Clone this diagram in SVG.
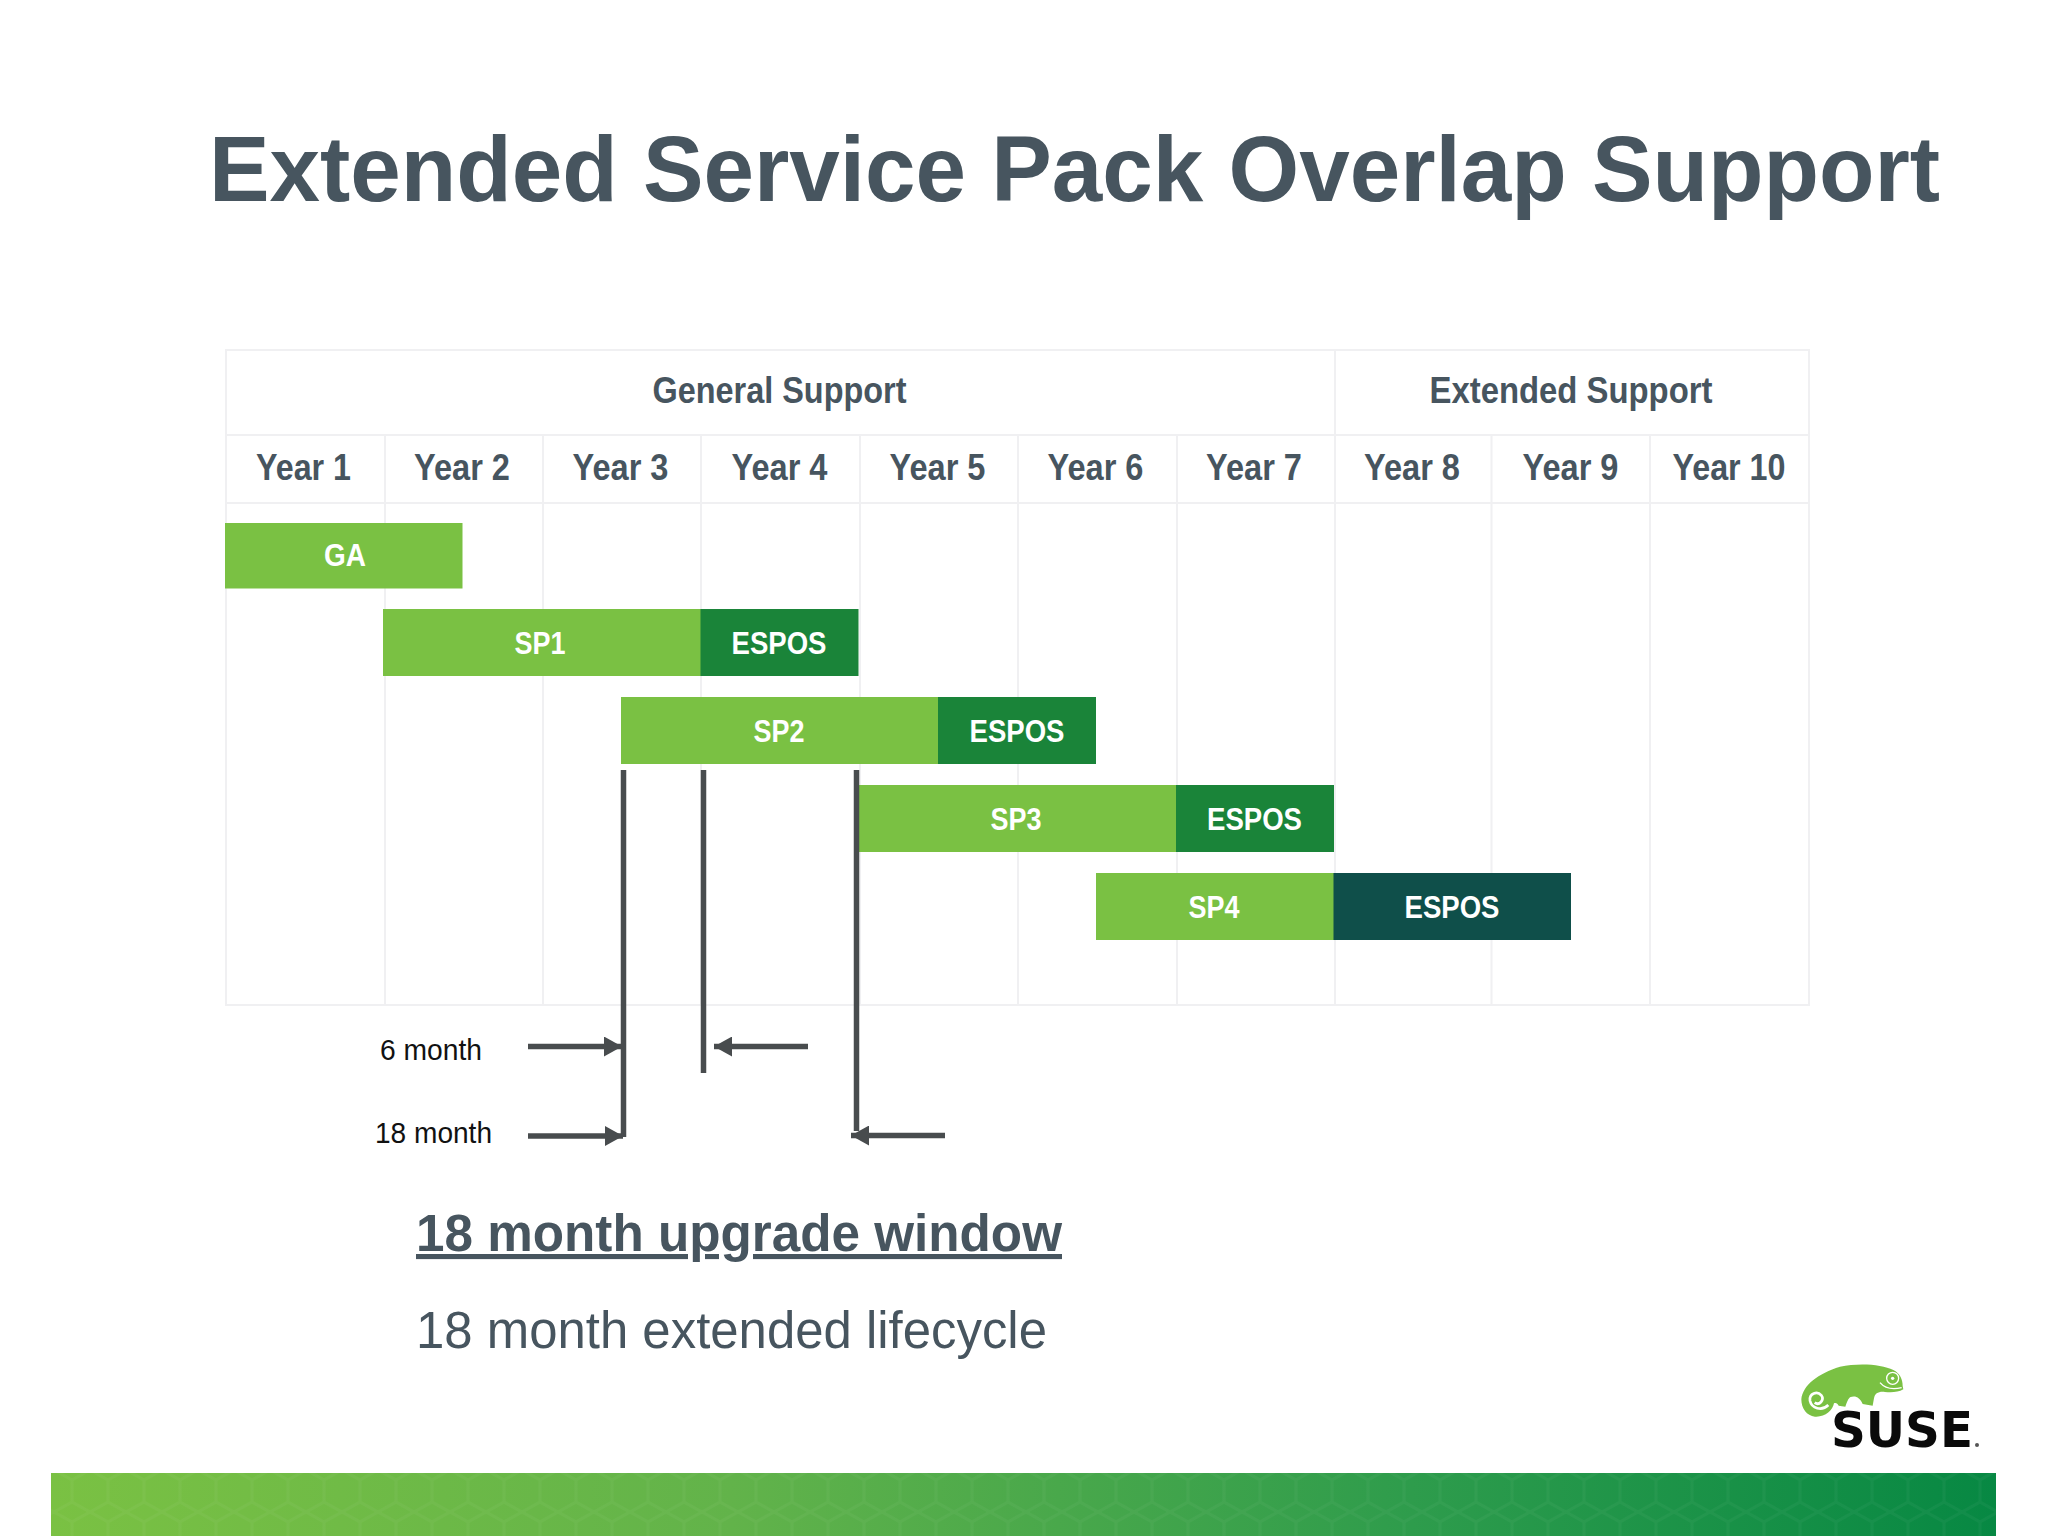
<svg xmlns="http://www.w3.org/2000/svg" width="2048" height="1536" viewBox="0 0 2048 1536">
<style>
text{font-family:"Liberation Sans",Arial,sans-serif}
.title{font-size:93px;font-weight:700;fill:#47555f}
.hd{font-size:37px;font-weight:700;fill:#47555f;text-anchor:middle}
.bl{font-size:32px;font-weight:700;fill:#fff;text-anchor:middle}
.mo{font-size:29px;fill:#111}
.big{font-size:51px;fill:#47555f}
.grid{stroke:#f0f0f2;stroke-width:2;fill:none}
.sp{fill:#7ac143}
.es{fill:#1a8439}
.conn{stroke:#484c4e;stroke-width:5.500;fill:none}
</style>
<defs>
<marker id="ah" markerUnits="userSpaceOnUse" markerWidth="20" markerHeight="20" refX="18" refY="10" orient="auto"><path d="M0,0L18,10L0,20z" fill="#484c4e"/></marker>
<linearGradient id="band" x1="0" x2="1" y1="0" y2="0"><stop offset="0" stop-color="#7ac143"/><stop offset=".35" stop-color="#62b34a"/><stop offset=".7" stop-color="#2e9c4c"/><stop offset="1" stop-color="#078843"/></linearGradient>
<pattern id="hex" width="36" height="42" patternUnits="userSpaceOnUse"><path d="M0,10L18,0L36,10V32L18,42L0,32z" fill="none" stroke="#fff" stroke-opacity=".035" stroke-width="3"/></pattern>
</defs>
<rect width="2048" height="1536" fill="#fff"/>
<text id="title" class="title" x="209" y="201" textLength="1731" lengthAdjust="spacingAndGlyphs">Extended Service Pack Overlap Support</text>
<g id="table">
<path class="grid" d="M226,350H1809V1005H226zM226,435H1809M226,503H1809M1335,350V1005M385,435V1005M543,435V1005M701,435V1005M860,435V1005M1018,435V1005M1177,435V1005M1491.500,435V1005M1650,435V1005"/>
<text class="hd" x="779.500" y="403" textLength="254" lengthAdjust="spacingAndGlyphs">General Support</text>
<text class="hd" x="1571" y="403" textLength="283" lengthAdjust="spacingAndGlyphs">Extended Support</text>
<text class="hd" x="303.500" y="480" textLength="95" lengthAdjust="spacingAndGlyphs">Year 1</text>
<text class="hd" x="462" y="480" textLength="96" lengthAdjust="spacingAndGlyphs">Year 2</text>
<text class="hd" x="620.500" y="480" textLength="96" lengthAdjust="spacingAndGlyphs">Year 3</text>
<text class="hd" x="779.500" y="480" textLength="96" lengthAdjust="spacingAndGlyphs">Year 4</text>
<text class="hd" x="937.500" y="480" textLength="96" lengthAdjust="spacingAndGlyphs">Year 5</text>
<text class="hd" x="1095.500" y="480" textLength="96" lengthAdjust="spacingAndGlyphs">Year 6</text>
<text class="hd" x="1254" y="480" textLength="96" lengthAdjust="spacingAndGlyphs">Year 7</text>
<text class="hd" x="1412" y="480" textLength="96" lengthAdjust="spacingAndGlyphs">Year 8</text>
<text class="hd" x="1570.500" y="480" textLength="96" lengthAdjust="spacingAndGlyphs">Year 9</text>
<text class="hd" x="1729" y="480" textLength="113" lengthAdjust="spacingAndGlyphs">Year 10</text>
</g>
<g id="bar-ga"><rect class="sp" x="225" y="523" width="237.500" height="65.500"/><text class="bl" x="345" y="566" textLength="42" lengthAdjust="spacingAndGlyphs">GA</text></g>
<g id="bar-sp1"><rect class="sp" x="383" y="609" width="318" height="67"/><text class="bl" x="540" y="654" textLength="51" lengthAdjust="spacingAndGlyphs">SP1</text></g>
<g id="bar-sp1-espos"><rect class="es" x="700.500" y="609" width="158" height="67"/><text class="bl" x="779" y="654" textLength="95" lengthAdjust="spacingAndGlyphs">ESPOS</text></g>
<g id="bar-sp2"><rect class="sp" x="621" y="697" width="317" height="67"/><text class="bl" x="779" y="742" textLength="51" lengthAdjust="spacingAndGlyphs">SP2</text></g>
<g id="bar-sp2-espos"><rect class="es" x="938" y="697" width="158" height="67"/><text class="bl" x="1017" y="742" textLength="95" lengthAdjust="spacingAndGlyphs">ESPOS</text></g>
<g id="bar-sp3"><rect class="sp" x="859" y="785" width="317" height="67"/><text class="bl" x="1016" y="830" textLength="51" lengthAdjust="spacingAndGlyphs">SP3</text></g>
<g id="bar-sp3-espos"><rect class="es" x="1176" y="785" width="158" height="67"/><text class="bl" x="1254.500" y="830" textLength="95" lengthAdjust="spacingAndGlyphs">ESPOS</text></g>
<g id="bar-sp4"><rect class="sp" x="1096" y="873" width="238" height="67"/><text class="bl" x="1214" y="918" textLength="51" lengthAdjust="spacingAndGlyphs">SP4</text></g>
<g id="bar-sp4-espos"><rect x="1333.500" y="873" width="237.500" height="67" fill="#0f4f4a"/><text class="bl" x="1452" y="918" textLength="95" lengthAdjust="spacingAndGlyphs">ESPOS</text></g>
<g id="connectors">
<path class="conn" d="M623.500,770V1137M703.500,770V1073M856.500,770V1131"/>
<path class="conn" marker-end="url(#ah)" d="M528,1046.500H622"/>
<path class="conn" marker-end="url(#ah)" d="M808,1046.500H714"/>
<path class="conn" marker-end="url(#ah)" d="M528,1136H623"/>
<path class="conn" marker-end="url(#ah)" d="M945,1135.500H851"/>
</g>
<g id="label-6"><text class="mo" x="380" y="1060" textLength="102" lengthAdjust="spacingAndGlyphs">6 month</text></g>
<g id="label-18"><text class="mo" x="375" y="1143" textLength="117" lengthAdjust="spacingAndGlyphs">18 month</text></g>
<text id="upgrade" class="big" x="416" y="1251" text-decoration="underline" textLength="646" lengthAdjust="spacingAndGlyphs" style="font-weight:700">18 month upgrade window</text>
<text id="lifecycle" class="big" x="416" y="1348" textLength="631" lengthAdjust="spacingAndGlyphs">18 month extended lifecycle</text>
<g id="footer"><rect x="51" y="1473" width="1945" height="63" fill="url(#band)"/><rect x="51" y="1473" width="1945" height="63" fill="url(#hex)"/></g>
<g id="logo">
<g transform="translate(1760,1340) scale(.3333)">
<path fill="#7ac143" d="M124,178C128,135 175,100 240,80C295,68 365,72 400,90C420,100 428,118 428,138L430,148C415,157 395,158 375,156C355,154 345,160 342,175L338,197L308,192C300,172 285,165 270,172C262,180 260,190 256,200L236,197C232,190 228,187 222,190C218,212 195,232 165,230C140,228 124,205 124,178z"/>
<g fill="none" stroke="#fff">
<path stroke-width="8" d="M205,195C185,215 155,205 150,182C147,160 172,152 184,166C194,180 178,198 164,188"/>
<circle cx="398" cy="115" r="18" stroke-width="4"/><circle cx="398" cy="115" r="5" fill="#fff" stroke="none"/>
<path stroke-width="4" d="M360,128C372,142 395,150 425,143"/>
</g>
</g>
<text x="1831" y="1447" style="font-family:'DejaVu Sans',sans-serif;font-weight:700;font-size:50px" fill="#0a0a0a" textLength="142" lengthAdjust="spacingAndGlyphs">SUSE</text>
<circle cx="1977" cy="1445" r="2" fill="#555"/>
</g>
</svg>
